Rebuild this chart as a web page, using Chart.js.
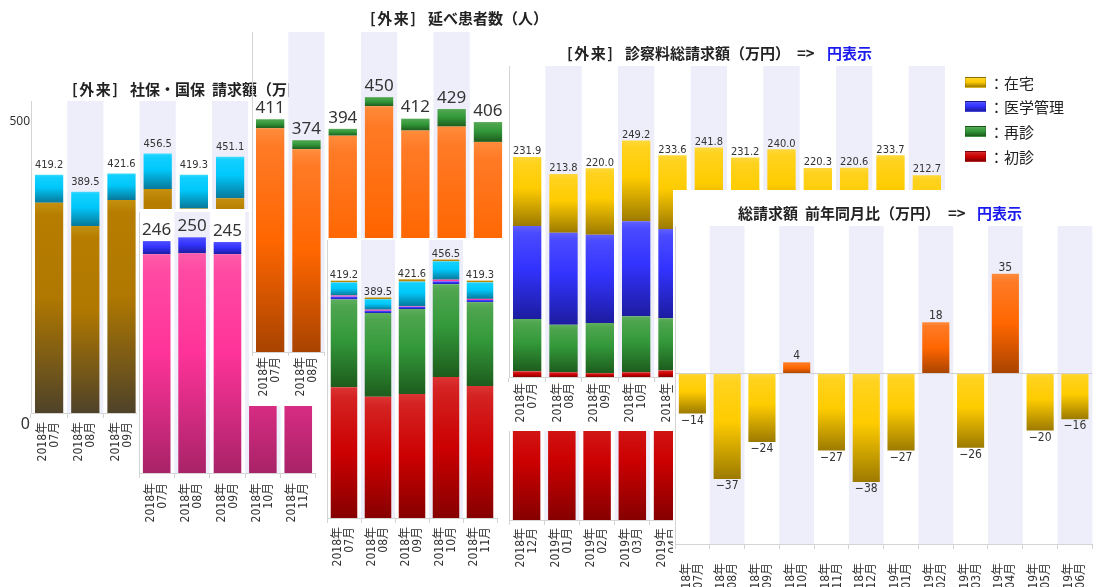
<!DOCTYPE html>
<html><head><meta charset="utf-8">
<script src="https://cdn.jsdelivr.net/npm/chart.js@4.4.1/dist/chart.umd.min.js"></script>
<style>
html,body{margin:0;padding:0;width:1105px;height:587px;overflow:hidden;background:#fff;}
.panel{position:absolute;overflow:hidden;}
.panel canvas{position:absolute;left:0;top:0;}
.tt{position:absolute;font-family:"Noto Sans CJK JP",sans-serif;font-weight:bold;font-size:15px;line-height:15px;color:#222;white-space:nowrap;}
.br{letter-spacing:1.5px;}
.blue{color:#1a1aee;}
.lg{position:absolute;font-family:"Noto Sans CJK JP",sans-serif;font-size:15px;line-height:15px;color:#222;white-space:nowrap;}
.lg i{display:inline-block;width:19px;height:9px;margin-right:3px;vertical-align:1px;border:1px solid rgba(0,0,0,0.15);}
</style></head><body>
<script>
// ---------------- data ----------------
const months = ['2018年07月','2018年08月','2018年09月','2018年10月','2018年11月','2018年12月',
                '2019年01月','2019年02月','2019年03月','2019年04月','2019年05月','2019年06月'];

// [外来] 社保・国保 請求額（万円）
const shahoMonths = months.slice(0, 6);
const shahoBase   = [370, 329, 375, 394, 360, 378];
const shahoTop    = [49.2, 60.5, 46.6, 62.5, 59.3, 73.1];
const shahoTickLabels = ['0', '500'];

// pink / blue panel
const pinkMonths = months.slice(0, 5);
const pinkBase   = [232, 233, 232, 241, 236];
const pinkTop    = [14, 17, 13, 15, 14];

// [外来] 延べ患者数（人）
const patientMonths = months.slice(0, 7);
const patientMain   = [395, 358, 382, 434, 391, 398, 371];
const patientTop    = [16, 16, 12, 16, 21, 31, 35];

// breakdown panel (red / green / blue / magenta / cyan / gold)
const brkMonths  = months.slice(0, 5);
const brkRed     = [231, 214, 219, 249, 233];
const brkGreen   = [155, 148, 150, 164, 148];
const brkBlue    = [5, 4, 4, 5, 4];
const brkMagenta = [2, 2, 1, 3, 2];
const brkCyan    = [23.2, 18.5, 43.6, 32.5, 29.3];
const brkGold    = [3, 3, 4, 3, 3];

// [外来] 診察料総請求額（万円）
const feeNames   = ['在宅', '医学管理', '再診', '初診'];
const fee初診     = [6, 5, 4, 5, 7, 6, 5, 6, 5, 6, 6, 5];
const fee再診     = [55, 50, 53, 59, 55, 56, 52, 57, 51, 50, 54, 49];
const fee医学管理  = [98, 97, 93, 100, 94, 96, 98, 95, 92, 94, 97, 93];
const fee在宅     = [72.9, 61.8, 70.0, 85.2, 77.6, 83.8, 76.2, 82.0, 72.3, 70.6, 76.7, 65.7];

// lower red panel
const lowerMonths = months.slice(5, 10);
const lowerRed    = [92, 95, 90, 94, 93];

// 総請求額 前年同月比（万円）
const yoyDiff = [-14, -37, -24, 4, -27, -38, -27, 18, -26, 35, -20, -16];

// ---------------- styles ----------------
const NARROW = '"Liberation Sans Narrow","DejaVu Sans Condensed","Noto Sans CJK JP",sans-serif';
const GRAD = {
  brown:  [[0,'#c4900e'],[0.06,'#b67d00'],[0.45,'#b07800'],[1,'#4e4229']],
  cyan:   [[0,'#3fdcff'],[0.08,'#12d0ff'],[0.45,'#00c8fa'],[1,'#08789a']],
  pink:   [[0,'#ff5cab'],[0.08,'#ff4aa3'],[0.45,'#ff3399'],[1,'#a82368']],
  blue:   [[0,'#6060ff'],[0.08,'#4a4aff'],[0.45,'#3333ff'],[1,'#1c1ca0']],
  orange: [[0,'#ff8c3c'],[0.08,'#ff7a26'],[0.5,'#ff6600'],[1,'#a84300']],
  green:  [[0,'#5eae5e'],[0.08,'#4ea54e'],[0.45,'#33993a'],[1,'#1d5c1d']],
  red:    [[0,'#dc3434'],[0.08,'#d42222'],[0.5,'#cc0000'],[1,'#860000']],
  yellow: [[0,'#ffd83c'],[0.08,'#ffd21e'],[0.45,'#ffcc00'],[1,'#9c7a00']],
  magenta:[[0,'#ff4aa8'],[1,'#ff3399']],
  gold:   [[0,'#c8960e'],[1,'#b07800']]
};
function cssGrad(name){
  return 'linear-gradient(to bottom,' + GRAD[name].map(s=>s[1]+' '+(s[0]*100)+'%').join(',') + ')';
}
function gradFill(pick){
  return function(ctx){
    const chart = ctx.chart, area = chart.chartArea;
    const di = ctx.datasetIndex, i = ctx.dataIndex;
    const v = chart.data.datasets[di].data[i];
    const stops = GRAD[typeof pick === 'function' ? pick(v) : pick];
    if (!area || ctx.type !== 'data') return stops[1][1];
    let base = 0;
    for (let k = 0; k < di; k++) {
      const w = chart.data.datasets[k].data[i];
      if ((w >= 0) === (v >= 0)) base += w;
    }
    const ys = chart.scales.y;
    const y1 = ys.getPixelForValue(Math.max(base, base + v));
    const y2 = ys.getPixelForValue(Math.min(base, base + v));
    const g = chart.ctx.createLinearGradient(0, y1, 0, Math.max(y2, y1 + 1));
    stops.forEach(s => g.addColorStop(s[0], s[1]));
    return g;
  };
}

// ---------------- plugins ----------------
const bands = {
  id: 'bands',
  beforeDraw(chart, args, o){
    const c = chart.ctx, a = chart.chartArea, xs = chart.scales.x;
    c.save();
    if (o.white) { c.fillStyle = '#fff'; c.fillRect(o.white[0], o.white[1], o.white[2], o.white[3]); }
    const n = chart.data.labels.length, w = (a.right - a.left) / n;
    c.fillStyle = '#eeeefb';
    for (let i = 1; i < n; i += 2) {
      const cx = xs.getPixelForValue(i);
      c.fillRect(cx - w/2, a.top, w, a.bottom - a.top);
    }
    c.restore();
  }
};
const valueLabels = {
  id: 'valueLabels',
  afterDatasetsDraw(chart, args, o){
    if (!o || !o.show) return;
    const c = chart.ctx, xs = chart.scales.x, ys = chart.scales.y;
    c.save();
    c.font = o.font; c.fillStyle = o.color || '#333'; c.textAlign = 'center';
    chart.data.labels.forEach((l, i) => {
      let tot = 0;
      chart.data.datasets.forEach(d => tot += d.data[i]);
      const x = xs.getPixelForValue(i), y = ys.getPixelForValue(tot);
      const txt = o.fmt(tot);
      if (tot >= 0) { c.textBaseline = o.baseline || 'bottom'; c.fillText(txt, x, y - o.gap); }
      else { c.textBaseline = 'top'; c.fillText(txt, x, y + (o.gapDown || 1)); }
    });
    c.restore();
  }
};

const splitLabel = s => [s.slice(0, 5), s.slice(5)];
let zc = 1;

function makePanel(p){
  const div = document.createElement('div');
  div.className = 'panel';
  Object.assign(div.style, {left:p.x+'px', top:p.y+'px', width:p.w+'px', height:p.h+'px',
    zIndex: zc++, background: p.bg ? '#fff' : 'transparent'});
  document.body.appendChild(div);
  const cv = document.createElement('canvas');
  cv.width = p.w; cv.height = p.h;
  cv.style.width = p.w + 'px'; cv.style.height = p.h + 'px';
  div.appendChild(cv);
  (p.title || []).forEach(t => {
    const s = document.createElement('div');
    s.className = 'tt' + (t[2] ? ' ' + t[2] : '');
    s.textContent = t[0];
    s.style.left = (t[1] - p.x) + 'px';
    s.style.top = (p.titleY - 8 - p.y) + 'px';
    div.appendChild(s);
  });
  const a = p.area, yW = p.yWidth || 0;
  const yScale = Object.assign({
    stacked: true, min: p.yMin || 0, max: p.yMax,
    grid: {display: false, drawTicks: false},
    border: {color: '#d4d4d4'},
    ticks: {display: false},
    afterFit(s){ s.width = yW; }
  }, p.yExtra || {});
  new Chart(cv, {
    type: 'bar',
    data: {
      labels: p.labels.map(splitLabel),
      datasets: p.datasets.map(d => ({label: d.label, data: d.data, backgroundColor: d.color,
        borderWidth: 0, barPercentage: 0.78, categoryPercentage: 1, stack: 's'}))
    },
    options: {
      responsive: false, animation: false, events: [], devicePixelRatio: 1,
      layout: {padding: {left: a.l - p.x - yW, top: a.t - p.y, right: p.x + p.w - a.r, bottom: 0}},
      plugins: {legend: {display: false}, tooltip: {enabled: false}, title: {display: false},
        valueLabels: p.vl || {show: false}, bands: {white: p.white || null}},
      scales: {
        x: {
          stacked: true, offset: true,
          grid: {offset: true, drawOnChartArea: false, tickLength: p.tickLen || 5, color: '#d4d4d4'},
          border: {color: '#d4d4d4'},
          ticks: {minRotation: 90, maxRotation: 90, autoSkip: false, padding: p.tickPad,
            labelOffset: -6, color: '#333', font: {family: NARROW, size: 12, lineHeight: 1}},
          afterFit(s){ s.height = p.y + p.h - a.b; }
        },
        y: yScale
      }
    },
    plugins: [bands, valueLabels]
  });
  return div;
}

const fmt1 = v => v.toFixed(1);
const fmt0 = v => Math.round(v).toString();
const SMALL = '11px ' + NARROW;
const BIG = '17px "Noto Sans",sans-serif';

// Panel A: 社保・国保 請求額
makePanel({
  x: 0, y: 60, w: 330, h: 410, bg: false,
  title: [['[外来]', 72, 'br'], ['社保・国保', 130], ['請求額（万円）', 212]], titleY: 89,
  area: {l: 31, t: 101, r: 248.2, b: 413}, yWidth: 31, yMax: 549,
  yExtra: {
    ticks: {display: true, padding: 1, color: '#333',
      font: c => ({family: '"Noto Sans",sans-serif', size: c.tick && c.tick.value < 0 ? 16 : 12}),
      callback: v => (v < 0 ? shahoTickLabels[0] : shahoTickLabels[1])},
    // label anchors as placed in the original (0 label sits just below the axis)
    afterBuildTicks(s){ s.ticks = [{value: -21}, {value: 512}]; }
  },
  labels: shahoMonths, tickPad: 4,
  datasets: [{label: 'base', data: shahoBase, color: gradFill('brown')},
             {label: 'top', data: shahoTop, color: gradFill('cyan')}],
  vl: {show: true, font: SMALL, fmt: fmt1, gap: 4}
});

// Pink panel
makePanel({
  x: 137, y: 209, w: 191, h: 330, bg: true,
  area: {l: 139, t: 212, r: 320.5, b: 473}, yMax: 276.8,
  labels: pinkMonths, tickPad: 5,
  datasets: [{label: 'base', data: pinkBase, color: gradFill('pink')},
             {label: 'top', data: pinkTop, color: gradFill('blue')}],
  vl: {show: true, font: BIG, fmt: fmt0, gap: 11, baseline: 'middle'}
});

// Orange panel: 延べ患者数
makePanel({
  x: 248, y: 0, w: 310, h: 406, bg: false, white: [1, 98, 262, 308],
  title: [['[外来]', 370, 'br'], ['延べ患者数（人）', 428]], titleY: 18,
  area: {l: 252, t: 32, r: 506.1, b: 352}, yMax: 565,
  labels: patientMonths, tickPad: 1, tickLen: 4,
  datasets: [{label: 'main', data: patientMain, color: gradFill('orange')},
             {label: 'top', data: patientTop, color: gradFill('green')}],
  vl: {show: true, font: BIG, fmt: fmt0, gap: 11, baseline: 'middle'}
});

// Breakdown panel
makePanel({
  x: 325, y: 238, w: 183, h: 349, bg: true,
  area: {l: 327, t: 240, r: 508.5, b: 518}, yMax: 491,
  labels: brkMonths, tickPad: 4,
  datasets: [{label: 'red', data: brkRed, color: gradFill('red')},
             {label: 'green', data: brkGreen, color: gradFill('green')},
             {label: 'blue', data: brkBlue, color: gradFill('blue')},
             {label: 'magenta', data: brkMagenta, color: gradFill('magenta')},
             {label: 'cyan', data: brkCyan, color: gradFill('cyan')},
             {label: 'gold', data: brkGold, color: gradFill('gold')}],
  vl: {show: true, font: SMALL, fmt: fmt1, gap: 0}
});

// Lower red panel
makePanel({
  x: 505, y: 380, w: 190, h: 207, bg: true,
  area: {l: 509, t: 392, r: 690.5, b: 520}, yMax: 100,
  labels: lowerMonths, tickPad: 3,
  datasets: [{label: 'red', data: lowerRed, color: gradFill('red')}]
});

// 診察料 panel
const feePanel = makePanel({
  x: 505, y: 38, w: 600, h: 393, bg: true,
  title: [['[外来]', 567, 'br'], ['診察料総請求額（万円）', 625], ['=>', 797], ['円表示', 827, 'blue']], titleY: 53,
  area: {l: 509, t: 66, r: 945, b: 377}, yMax: 327.7,
  labels: months, tickPad: 1,
  datasets: [{label: feeNames[3], data: fee初診, color: gradFill('red')},
             {label: feeNames[2], data: fee再診, color: gradFill('green')},
             {label: feeNames[1], data: fee医学管理, color: gradFill('blue')},
             {label: feeNames[0], data: fee在宅, color: gradFill('yellow')}],
  vl: {show: true, font: SMALL, fmt: fmt1, gap: 0}
});
// legend (HTML)
['yellow', 'blue', 'green', 'red'].forEach((g, k) => {
  const d = document.createElement('div');
  d.className = 'lg';
  d.innerHTML = '<i style="background:' + cssGrad(g) + '"></i>：' + feeNames[k];
  d.style.left = (965 - 505) + 'px';
  d.style.top = ([83, 107, 132, 157][k] - 8 - 38) + 'px';
  feePanel.appendChild(d);
});

// 前年同月比 panel
makePanel({
  x: 673, y: 190, w: 440, h: 397, bg: true,
  title: [['総請求額', 738], ['前年同月比（万円）', 805], ['=>', 948], ['円表示', 977, 'blue']], titleY: 213,
  area: {l: 675, t: 226, r: 1110.6, b: 544}, yMin: -59.8, yMax: 51.8,
  yExtra: {
    ticks: {display: false, stepSize: 10},
    grid: {display: true, drawTicks: false,
      color: c => (c.tick && c.tick.value === 0 ? '#d0d0d0' : 'rgba(0,0,0,0)')}
  },
  labels: months, tickPad: 14,
  datasets: [{label: 'diff', data: yoyDiff, color: gradFill(v => v >= 0 ? 'orange' : 'yellow')}],
  vl: {show: true, font: '12px ' + NARROW, fmt: v => (v < 0 ? '−' : '') + Math.abs(Math.round(v)), gap: 0, gapDown: 1}
});
</script>
</body></html>
